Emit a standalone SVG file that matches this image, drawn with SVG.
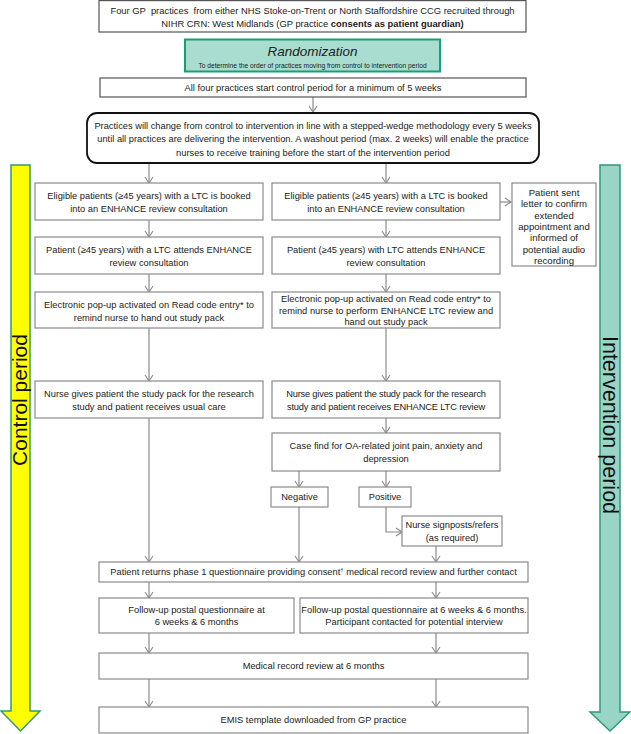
<svg xmlns="http://www.w3.org/2000/svg" width="631" height="734" viewBox="0 0 631 734">
<defs>
<style>
.b{fill:#fff;stroke:#8a8a8a;stroke-width:1.2}
.bd{fill:#fff;stroke:#555;stroke-width:1.2}
.t{font-family:"Liberation Sans",Arial,sans-serif;font-size:9.3px;fill:#222;text-anchor:middle}
.c{fill:none;stroke:#8a8a8a;stroke-width:1.2}
</style>
<marker id="ah" viewBox="-7 -5 8 10" refX="0" refY="0" markerWidth="8" markerHeight="10" markerUnits="userSpaceOnUse" orient="auto">
<path d="M-6,-4 L0,0 L-6,4" fill="none" stroke="#8a8a8a" stroke-width="1.1"/>
</marker>
</defs>
<rect width="631" height="734" fill="#fff"/>

<g id="control-arrow">
<path d="M11,165 H30 V711 H40 L20.5,731 L1,711 H11 Z" fill="#ffff00" stroke="#2e9b74" stroke-width="1.5"/>
<text class="t" transform="translate(27,400) rotate(-90)" style="font-size:21px;fill:#111">Control period</text>
</g>
<g id="intervention-arrow">
<path d="M600,165 H620 V712 H630 L610,731 L590,712 H600 Z" fill="#98d5c6" stroke="#2e9b74" stroke-width="1.5"/>
<text class="t" transform="translate(603,425) rotate(90)" style="font-size:21.5px;fill:#111">Intervention period</text>
</g>

<g id="connectors">
<line class="c" x1="313" y1="97" x2="313" y2="112" marker-end="url(#ah)"/>
<line class="c" x1="149" y1="163" x2="149" y2="183" marker-end="url(#ah)"/>
<line class="c" x1="386" y1="163" x2="386" y2="183" marker-end="url(#ah)"/>
<line class="c" x1="149" y1="220" x2="149" y2="237" marker-end="url(#ah)"/>
<line class="c" x1="386" y1="220" x2="386" y2="237" marker-end="url(#ah)"/>
<line class="c" x1="500" y1="202" x2="511" y2="202" marker-end="url(#ah)"/>
<line class="c" x1="149" y1="274" x2="149" y2="292" marker-end="url(#ah)"/>
<line class="c" x1="386" y1="274" x2="386" y2="292" marker-end="url(#ah)"/>
<line class="c" x1="149" y1="328" x2="149" y2="381" marker-end="url(#ah)"/>
<line class="c" x1="386" y1="328" x2="386" y2="381" marker-end="url(#ah)"/>
<line class="c" x1="386" y1="418" x2="386" y2="433" marker-end="url(#ah)"/>
<line class="c" x1="299" y1="471" x2="299" y2="487" marker-end="url(#ah)"/>
<line class="c" x1="386" y1="471" x2="386" y2="487" marker-end="url(#ah)"/>
<path class="c" d="M386,507 V532 H402" marker-end="url(#ah)"/>
<line class="c" x1="149" y1="418" x2="149" y2="562" marker-end="url(#ah)"/>
<line class="c" x1="299" y1="507" x2="299" y2="562" marker-end="url(#ah)"/>
<line class="c" x1="436" y1="546" x2="436" y2="562" marker-end="url(#ah)"/>
<line class="c" x1="149" y1="582" x2="149" y2="598" marker-end="url(#ah)"/>
<line class="c" x1="436" y1="582" x2="436" y2="598" marker-end="url(#ah)"/>
<line class="c" x1="149" y1="633" x2="149" y2="653" marker-end="url(#ah)"/>
<line class="c" x1="436" y1="633" x2="436" y2="653" marker-end="url(#ah)"/>
<line class="c" x1="149" y1="679" x2="149" y2="707" marker-end="url(#ah)"/>
<line class="c" x1="436" y1="679" x2="436" y2="707" marker-end="url(#ah)"/>
</g>

<g id="recruit">
<rect class="bd" x="99" y="0.6" width="427" height="31.4"/>
<text class="t" x="312.5" y="14" style="font-size:9.4px;white-space:pre">Four GP  practices  from either NHS Stoke-on-Trent or North Staffordshire CCG recruited through</text>
<text class="t" x="312.5" y="26.5" style="font-size:9.4px">NIHR CRN: West Midlands (GP practice <tspan font-weight="bold">consents as patient guardian)</tspan></text>
</g>
<g id="randomization">
<rect x="185" y="39.5" width="255" height="32" fill="#a8ddd0" stroke="#1a9f75" stroke-width="2"/>
<text class="t" x="312.5" y="56" style="font-size:13.5px;font-style:italic">Randomization</text>
<text class="t" x="312.5" y="67.5" style="font-size:6.7px">To determine the order of practices moving from control to intervention period</text>
</g>
<g id="control-start">
<rect class="bd" x="100" y="78" width="426" height="19"/>
<text class="t" x="313" y="91" style="font-size:9.3px">All four practices start control period for a minimum of 5 weeks</text>
</g>
<g id="stepped-wedge">
<rect x="87" y="113" width="452" height="50" rx="10" ry="10" fill="#fff" stroke="#111" stroke-width="1.8"/>
<text class="t" x="313" y="128.5">Practices will change from control to intervention in line with a stepped-wedge methodology every 5 weeks</text>
<text class="t" x="313" y="142">until all practices are delivering the intervention. A washout period (max. 2 weeks) will enable the practice</text>
<text class="t" x="313" y="155.5">nurses to receive training before the start of the intervention period</text>
</g>

<g id="c-eligible">
<rect class="b" x="35" y="183" width="228" height="37"/>
<text class="t" x="149" y="199">Eligible patients (≥45 years) with a LTC is booked</text>
<text class="t" x="149" y="212">into an ENHANCE review consultation</text>
</g>
<g id="i-eligible">
<rect class="b" x="272" y="183" width="228" height="37"/>
<text class="t" x="386" y="199">Eligible patients (≥45 years) with a LTC is booked</text>
<text class="t" x="386" y="212">into an ENHANCE review consultation</text>
</g>
<g id="letter">
<rect class="b" x="512" y="183" width="84" height="83"/>
<text class="t" x="554" y="196" style="font-size:9.6px">Patient sent</text>
<text class="t" x="554" y="207.3" style="font-size:9.6px">letter to confirm</text>
<text class="t" x="554" y="218.6" style="font-size:9.6px">extended</text>
<text class="t" x="554" y="229.9" style="font-size:9.6px">appointment and</text>
<text class="t" x="554" y="241.2" style="font-size:9.6px">informed of</text>
<text class="t" x="554" y="252.5" style="font-size:9.6px">potential audio</text>
<text class="t" x="554" y="263.8" style="font-size:9.6px">recording</text>
</g>
<g id="c-attends">
<rect class="b" x="35" y="237" width="228" height="37"/>
<text class="t" x="149" y="253">Patient (≥45 years) with a LTC attends ENHANCE</text>
<text class="t" x="149" y="266">review consultation</text>
</g>
<g id="i-attends">
<rect class="b" x="272" y="237" width="228" height="37"/>
<text class="t" x="386" y="253">Patient (≥45 years) with LTC attends ENHANCE</text>
<text class="t" x="386" y="266">review consultation</text>
</g>
<g id="c-popup">
<rect class="b" x="35" y="292" width="228" height="36"/>
<text class="t" x="149" y="307.5">Electronic pop-up activated on Read code entry* to</text>
<text class="t" x="149" y="320.5">remind nurse to hand out study pack</text>
</g>
<g id="i-popup">
<rect class="b" x="272" y="292" width="228" height="36"/>
<text class="t" x="386" y="302">Electronic pop-up activated on Read code entry* to</text>
<text class="t" x="386" y="313.5">remind nurse to perform ENHANCE LTC review and</text>
<text class="t" x="386" y="325">hand out study pack</text>
</g>
<g id="c-pack">
<rect class="b" x="35" y="381" width="228" height="37"/>
<text class="t" x="149" y="397">Nurse gives patient the study pack for the research</text>
<text class="t" x="149" y="410">study and patient receives usual care</text>
</g>
<g id="i-pack">
<rect class="b" x="272" y="381" width="228" height="37"/>
<text class="t" x="386" y="397" letter-spacing="-0.2">Nurse gives patient the study pack for the research</text>
<text class="t" x="386" y="410" letter-spacing="-0.15">study and patient receives ENHANCE LTC review</text>
</g>
<g id="casefind">
<rect class="b" x="272" y="433" width="228" height="38"/>
<text class="t" x="386" y="449">Case find for OA-related joint pain, anxiety and</text>
<text class="t" x="386" y="462">depression</text>
</g>
<g id="negative">
<rect class="b" x="271" y="487" width="57" height="20"/>
<text class="t" x="299.5" y="500">Negative</text>
</g>
<g id="positive">
<rect class="b" x="359" y="487" width="52" height="20"/>
<text class="t" x="385" y="500">Positive</text>
</g>
<g id="signpost">
<rect class="b" x="402" y="516" width="100" height="30"/>
<text class="t" x="452" y="528">Nurse signposts/refers</text>
<text class="t" x="452" y="540.5">(as required)</text>
</g>
<g id="phase1">
<rect class="b" x="99" y="562" width="429" height="20"/>
<text class="t" x="313.5" y="575">Patient returns phase 1 questionnaire providing consent<tspan dy="-3" style="font-size:6px">†</tspan><tspan dy="3"> medical record review and further contact</tspan></text>
</g>
<g id="c-followup">
<rect class="b" x="99" y="598" width="195" height="35"/>
<text class="t" x="196.5" y="612.5">Follow-up postal questionnaire at</text>
<text class="t" x="196.5" y="625">6 weeks &amp; 6 months</text>
</g>
<g id="i-followup">
<rect class="b" x="300" y="598" width="228" height="35"/>
<text class="t" x="414" y="612.5">Follow-up postal questionnaire at 6 weeks &amp; 6 months.</text>
<text class="t" x="414" y="625">Participant contacted for potential interview</text>
</g>
<g id="record-review">
<rect class="b" x="99" y="653" width="429" height="26"/>
<text class="t" x="313.5" y="669">Medical record review at 6 months</text>
</g>
<g id="emis">
<rect class="b" x="99" y="707" width="429" height="26"/>
<text class="t" x="313.5" y="723">EMIS template downloaded from GP practice</text>
</g>
</svg>
